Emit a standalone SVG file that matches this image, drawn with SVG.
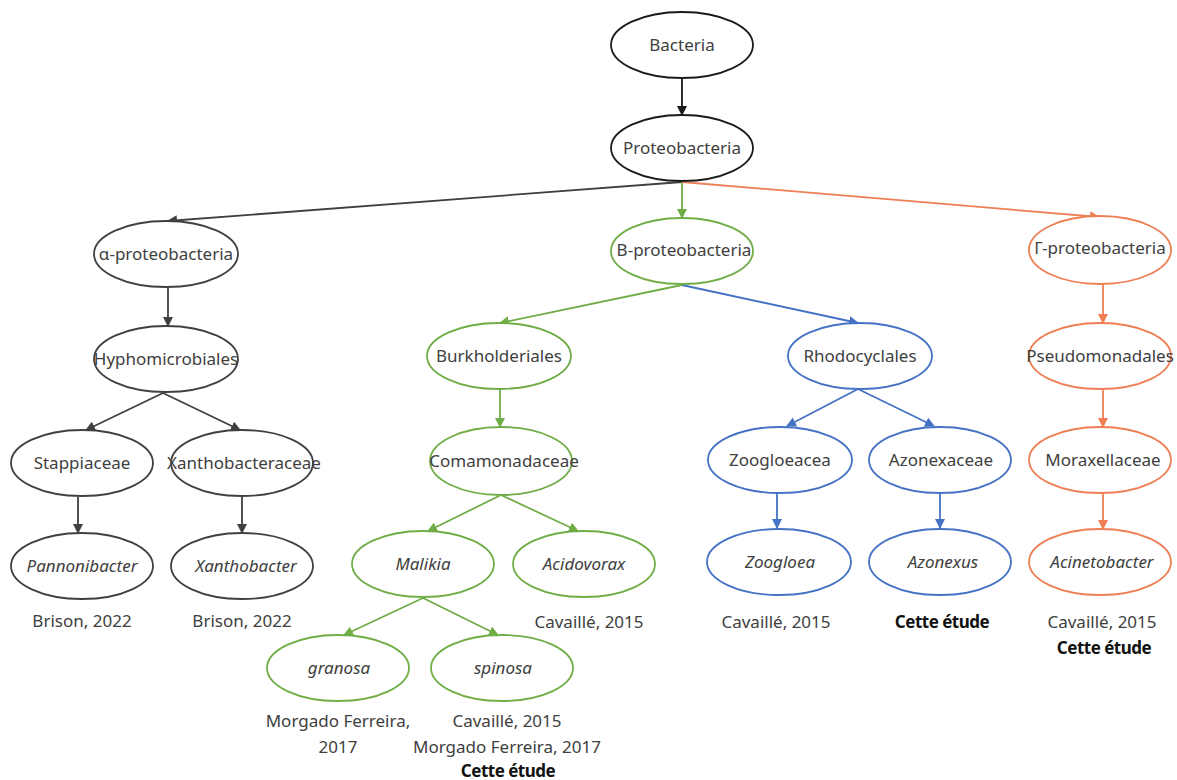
<svg xmlns="http://www.w3.org/2000/svg" width="1177" height="780" viewBox="0 0 1177 780">
<style>
text{font-family:"Noto Sans","Open Sans","Liberation Sans",sans-serif;font-size:17px;fill:#404040;text-anchor:middle}
.i{font-style:italic}
.b{font-weight:bold;fill:#111;letter-spacing:-0.5px}
ellipse{fill:#fff;stroke-width:1.8}
.k ellipse{stroke:#1a1a1a}
.g ellipse{stroke:#404040}
.gr ellipse{stroke:#70AD47}
.bl ellipse{stroke:#4472C4}
.o ellipse{stroke:#EE7F55}
.c line{stroke-width:1.8;fill:none}
</style>
<defs>
<marker id="mk" markerWidth="10" markerHeight="10" refX="9" refY="5" orient="auto" markerUnits="userSpaceOnUse"><path d="M0,0 L10,5 L0,10 Z" fill="#1a1a1a"/></marker>
<marker id="mg" markerWidth="10" markerHeight="10" refX="9" refY="5" orient="auto" markerUnits="userSpaceOnUse"><path d="M0,0 L10,5 L0,10 Z" fill="#404040"/></marker>
<marker id="mgr" markerWidth="10" markerHeight="10" refX="9" refY="5" orient="auto" markerUnits="userSpaceOnUse"><path d="M0,0 L10,5 L0,10 Z" fill="#70AD47"/></marker>
<marker id="mbl" markerWidth="10" markerHeight="10" refX="9" refY="5" orient="auto" markerUnits="userSpaceOnUse"><path d="M0,0 L10,5 L0,10 Z" fill="#4472C4"/></marker>
<marker id="mo" markerWidth="10" markerHeight="10" refX="9" refY="5" orient="auto" markerUnits="userSpaceOnUse"><path d="M0,0 L10,5 L0,10 Z" fill="#EE7F55"/></marker>
</defs>
<g id="connectors" class="c">
<line x1="682" y1="78" x2="682" y2="115" stroke="#1a1a1a" marker-end="url(#mk)"/>
<line x1="682" y1="182" x2="168" y2="221" stroke="#404040" marker-end="url(#mg)"/>
<line x1="682" y1="182" x2="682" y2="218" stroke="#70AD47" marker-end="url(#mgr)"/>
<line x1="682" y1="182" x2="1099" y2="217" stroke="#EE7F55" marker-end="url(#mo)"/>
<line x1="168" y1="288" x2="168" y2="326" stroke="#404040" marker-end="url(#mg)"/>
<line x1="163" y1="393" x2="86" y2="430" stroke="#404040" marker-end="url(#mg)"/>
<line x1="163" y1="393" x2="240" y2="430" stroke="#404040" marker-end="url(#mg)"/>
<line x1="78" y1="497" x2="78" y2="533" stroke="#404040" marker-end="url(#mg)"/>
<line x1="242" y1="497" x2="242" y2="533" stroke="#404040" marker-end="url(#mg)"/>
<line x1="682" y1="285" x2="500" y2="323" stroke="#70AD47" marker-end="url(#mgr)"/>
<line x1="682" y1="285" x2="858" y2="323" stroke="#4472C4" marker-end="url(#mbl)"/>
<line x1="500" y1="389" x2="500" y2="427" stroke="#70AD47" marker-end="url(#mgr)"/>
<line x1="501" y1="495" x2="428" y2="531" stroke="#70AD47" marker-end="url(#mgr)"/>
<line x1="501" y1="495" x2="578" y2="531" stroke="#70AD47" marker-end="url(#mgr)"/>
<line x1="423" y1="598" x2="344" y2="635" stroke="#70AD47" marker-end="url(#mgr)"/>
<line x1="423" y1="598" x2="498" y2="635" stroke="#70AD47" marker-end="url(#mgr)"/>
<line x1="858" y1="389" x2="787" y2="426" stroke="#4472C4" marker-end="url(#mbl)"/>
<line x1="858" y1="389" x2="934" y2="426" stroke="#4472C4" marker-end="url(#mbl)"/>
<line x1="777" y1="493" x2="777" y2="528" stroke="#4472C4" marker-end="url(#mbl)"/>
<line x1="940" y1="493" x2="940" y2="528" stroke="#4472C4" marker-end="url(#mbl)"/>
<line x1="1103" y1="284" x2="1103" y2="323" stroke="#EE7F55" marker-end="url(#mo)"/>
<line x1="1103" y1="390" x2="1103" y2="427" stroke="#EE7F55" marker-end="url(#mo)"/>
<line x1="1103" y1="493" x2="1103" y2="529" stroke="#EE7F55" marker-end="url(#mo)"/>
</g>
<g id="bacteria" class="k"><ellipse cx="682" cy="45" rx="71" ry="33"/><text x="682" y="51">Bacteria</text></g>
<g id="proteobacteria" class="k"><ellipse cx="682" cy="148" rx="71" ry="33"/><text x="682" y="154">Proteobacteria</text></g>
<g id="alpha" class="g"><ellipse cx="166" cy="254" rx="72" ry="33"/><text x="166" y="260">α-proteobacteria</text></g>
<g id="hyphomicrobiales" class="g"><ellipse cx="166" cy="359" rx="72" ry="33"/><text x="166" y="365">Hyphomicrobiales</text></g>
<g id="stappiaceae" class="g"><ellipse cx="82" cy="463" rx="71" ry="33"/><text x="82" y="469">Stappiaceae</text></g>
<g id="xanthobacteraceae" class="g"><ellipse cx="242" cy="463" rx="71" ry="33"/><text x="244" y="469">Xanthobacteraceae</text></g>
<g id="pannonibacter" class="g"><ellipse cx="82" cy="566" rx="71" ry="33"/><text class="i" x="82" y="572">Pannonibacter</text></g>
<g id="xanthobacter" class="g"><ellipse cx="242" cy="566" rx="71" ry="33"/><text class="i" x="246" y="572">Xanthobacter</text></g>
<text x="82" y="627">Brison, 2022</text>
<text x="242" y="627">Brison, 2022</text>
<g id="beta" class="gr"><ellipse cx="682" cy="251" rx="71" ry="33"/><text x="684" y="256">B-proteobacteria</text></g>
<g id="burkholderiales" class="gr"><ellipse cx="499" cy="356" rx="72" ry="33"/><text x="499" y="362">Burkholderiales</text></g>
<g id="comamonadaceae" class="gr"><ellipse cx="501" cy="461" rx="71" ry="34"/><text x="504" y="467">Comamonadaceae</text></g>
<g id="malikia" class="gr"><ellipse cx="423" cy="564" rx="71" ry="33"/><text class="i" x="423" y="570">Malikia</text></g>
<g id="acidovorax" class="gr"><ellipse cx="584" cy="564" rx="71" ry="33"/><text class="i" x="584" y="570">Acidovorax</text></g>
<g id="granosa" class="gr"><ellipse cx="338" cy="668" rx="71" ry="33"/><text class="i" x="339" y="674">granosa</text></g>
<g id="spinosa" class="gr"><ellipse cx="502" cy="668" rx="71" ry="33"/><text class="i" x="503" y="674">spinosa</text></g>
<text x="589" y="628">Cavaillé, 2015</text>
<text x="338" y="727">Morgado Ferreira,</text>
<text x="338" y="753">2017</text>
<text x="507" y="727">Cavaillé, 2015</text>
<text x="507" y="753">Morgado Ferreira, 2017</text>
<text class="b" x="508" y="777">Cette étude</text>
<g id="rhodocyclales" class="bl"><ellipse cx="860" cy="356" rx="72" ry="33"/><text x="860" y="362">Rhodocyclales</text></g>
<g id="zoogloeacea" class="bl"><ellipse cx="780" cy="460" rx="72" ry="33"/><text x="780" y="466">Zoogloeacea</text></g>
<g id="azonexaceae" class="bl"><ellipse cx="940" cy="460" rx="71" ry="33"/><text x="941" y="466">Azonexaceae</text></g>
<g id="zoogloea" class="bl"><ellipse cx="779" cy="562" rx="72" ry="33"/><text class="i" x="780" y="568">Zoogloea</text></g>
<g id="azonexus" class="bl"><ellipse cx="940" cy="562" rx="71" ry="33"/><text class="i" x="943" y="568">Azonexus</text></g>
<text x="776" y="628">Cavaillé, 2015</text>
<text class="b" x="942" y="628">Cette étude</text>
<g id="gamma" class="o"><ellipse cx="1100" cy="250" rx="71" ry="34"/><text x="1100" y="254">Γ-proteobacteria</text></g>
<g id="pseudomonadales" class="o"><ellipse cx="1100" cy="356" rx="71" ry="33"/><text x="1100" y="362">Pseudomonadales</text></g>
<g id="moraxellaceae" class="o"><ellipse cx="1100" cy="460" rx="71" ry="33"/><text x="1103" y="466">Moraxellaceae</text></g>
<g id="acinetobacter" class="o"><ellipse cx="1100" cy="562" rx="71" ry="33"/><text class="i" x="1102" y="568">Acinetobacter</text></g>
<text x="1102" y="628">Cavaillé, 2015</text>
<text class="b" x="1104" y="654">Cette étude</text>
</svg>
